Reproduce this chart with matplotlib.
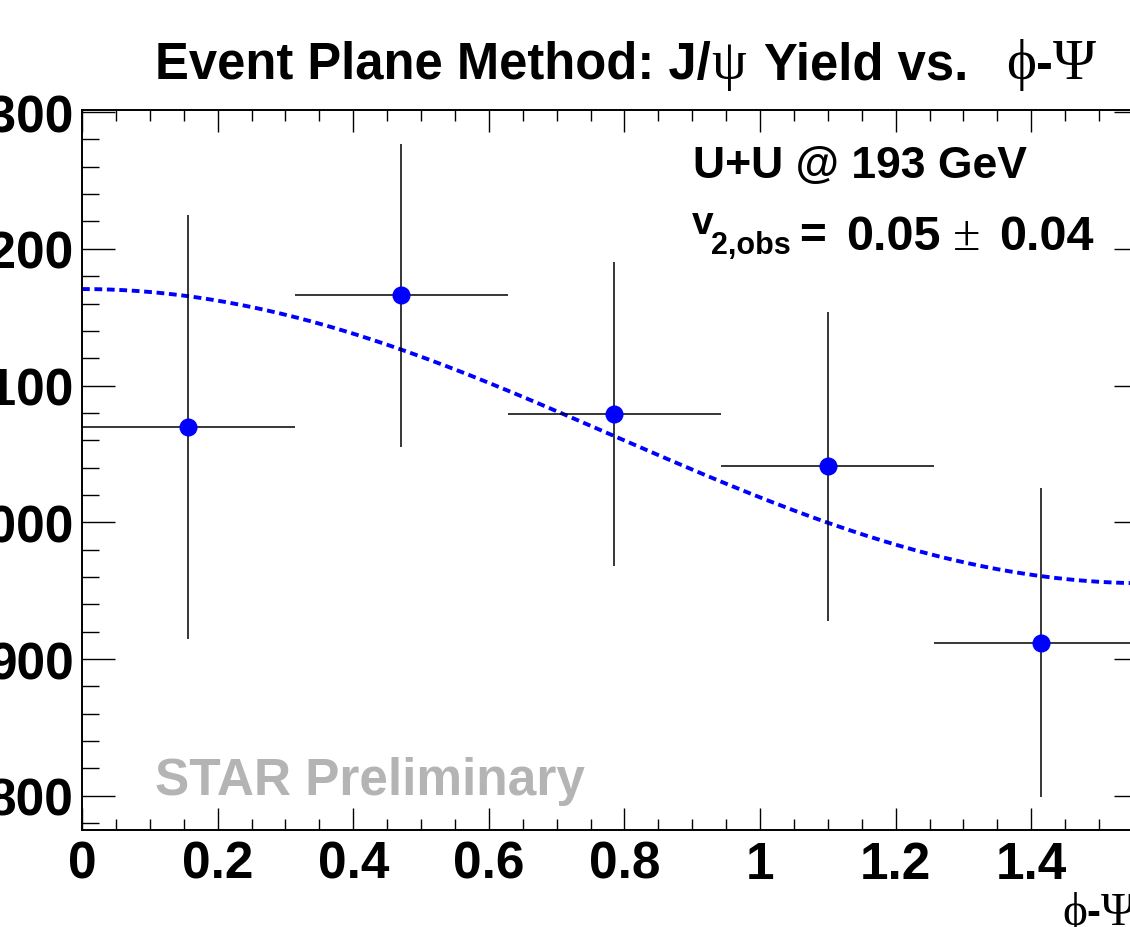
import numpy as np
import matplotlib
matplotlib.use('Agg')
import matplotlib.pyplot as plt
from matplotlib.ticker import MultipleLocator, FuncFormatter

# J/psi yield in bins of phi - Psi (bins of width pi/10)
bin_centers = [0.157, 0.471, 0.785, 1.100, 1.414]
bin_half_width = [0.157, 0.157, 0.157, 0.157, 0.157]
yield_vals = [1070, 1166, 1079, 1041, 912]
yield_errs = [155, 111, 111, 113, 113]

# fit: N * (1 + 2 v2 cos(2(phi-Psi)))
fit_norm = 1063.0
fit_v2 = 0.0506

W, H = 1130, 928
SANS = 'Liberation Sans'
SERIF = ['Liberation Serif', 'DejaVu Serif']

fig = plt.figure(figsize=(W / 100, H / 100), dpi=100)
ax = fig.add_axes([82 / W, 1 - 831 / H, (1147 - 82) / W, (831 - 111) / H])

phi = np.linspace(0, np.pi / 2, 300)
fit = fit_norm * (1 + 2 * fit_v2 * np.cos(2 * phi))
ax.plot(phi, fit, color='#0000ff', lw=2.8, ls=(0, (2.0, 1.2)), zorder=2)

ax.errorbar(bin_centers, yield_vals, xerr=bin_half_width, yerr=yield_errs,
            fmt='o', color='#0000ff', ms=12, mec='#0000ff',
            ecolor='black', elinewidth=1.1, capsize=0, zorder=3)

ax.set_xlim(0, np.pi / 2)
ax.set_ylim(775, 1301.5)

ax.xaxis.set_major_locator(MultipleLocator(0.2))
ax.xaxis.set_minor_locator(MultipleLocator(0.05))
ax.yaxis.set_major_locator(MultipleLocator(100))
ax.yaxis.set_minor_locator(MultipleLocator(20))
ax.xaxis.set_major_formatter(FuncFormatter(lambda v, p: '%g' % round(v, 2)))
ax.yaxis.set_major_formatter(FuncFormatter(lambda v, p: '%d' % v))

ax.tick_params(which='both', direction='in', top=True, right=True, width=1.0)
ax.xaxis.set_tick_params(which='major', length=16, pad=7)
ax.xaxis.set_tick_params(which='minor', length=8)
ax.yaxis.set_tick_params(which='major', length=24, pad=6)
ax.yaxis.set_tick_params(which='minor', length=12)
for lab in ax.get_xticklabels() + ax.get_yticklabels():
    lab.set_fontfamily(SANS)
    lab.set_fontweight('bold')
    lab.set_fontsize(37)
for sp in ax.spines.values():
    sp.set_linewidth(1.4)

renderer = fig.canvas.get_renderer()


def draw_pieces(x0, y0, pieces):
    # pieces: (text, kwargs, gap_after_px, baseline_shift_px)
    x = x0
    for s, kw, gap, dy in pieces:
        t = fig.text(x / W, 1 - (y0 + dy) / H, s, ha='left', va='baseline', **kw)
        x += t.get_window_extent(renderer).width + gap
    return x


def put(x, y, s, **kw):
    fig.text(x / W, 1 - y / H, s, ha='left', va='baseline', **kw)


bold = dict(family=SANS, weight='bold')

draw_pieces(155, 79, [
    ('Event Plane Method: J/', dict(size=36.5, **bold), 0, 0),
    ('\u03c8', dict(size=40, family=SERIF), 18, 0),
    ('Yield vs.', dict(size=36.5, **bold), 38, 0),
    ('\u03d5', dict(size=41, family=SERIF), 0, 0),
    ('-', dict(size=36.5, **bold), 0, 0),
    ('\u03a8', dict(size=42, family=SERIF), 0, 0),
])

put(693, 178, 'U+U @ 193 GeV', size=32, **bold)

put(692, 234, 'v', size=28, **bold)
put(711, 254, '2,obs', size=22, **bold)
put(799, 249, '=', size=33, **bold)
put(846, 250, '0.05', size=35, **bold)
put(953, 250, '\u00b1', size=36, family=SERIF)
put(999, 250, '0.04', size=35, **bold)

put(155, 795, 'STAR Preliminary', size=37, color='#b4b4b4', **bold)

draw_pieces(1062, 925, [
    ('\u03d5', dict(size=34, family=SERIF), 0, 0),
    ('-', dict(size=30, **bold), 0, 0),
    ('\u03a8', dict(size=34, family=SERIF), 0, 0),
])

fig.savefig('out.png', dpi=100)
